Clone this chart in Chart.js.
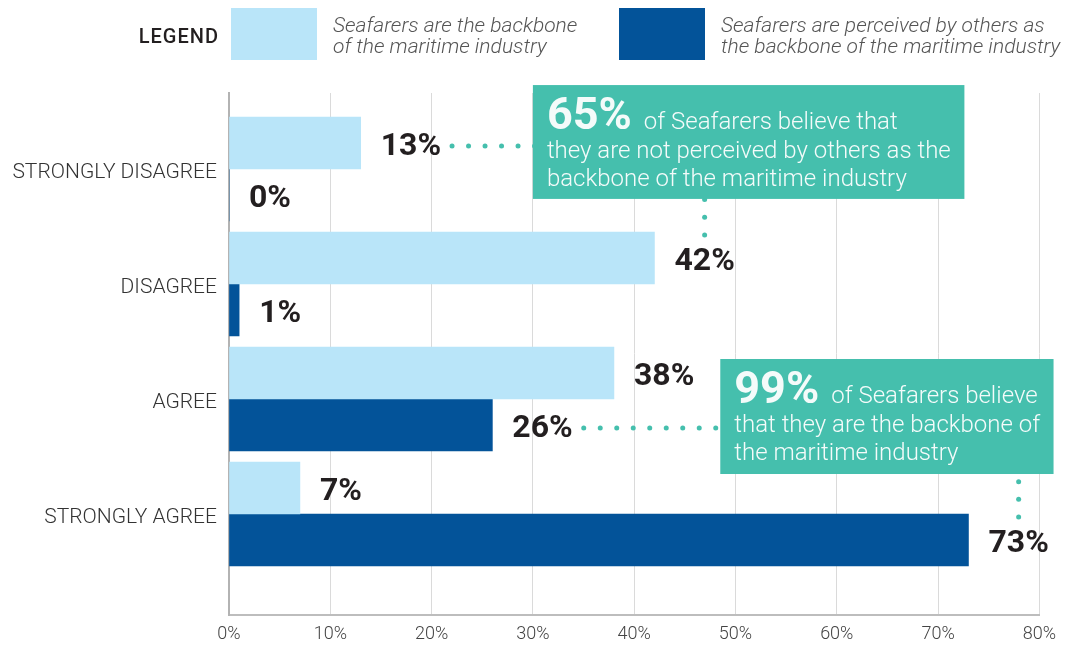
<!DOCTYPE html>
<html>
<head>
<meta charset="utf-8">
<script src="https://cdn.jsdelivr.net/npm/chart.js@4.4.1/dist/chart.umd.min.js"></script>
<style>
  html, body { margin: 0; padding: 0; background: #ffffff; }
  #wrap { width: 1065px; height: 648px; position: relative; }
</style>
</head>
<body>
<div id="wrap"><canvas id="chart"></canvas></div>
<script>
// Survey answers, in percent of respondents
const categories = ['STRONGLY DISAGREE', 'DISAGREE', 'AGREE', 'STRONGLY AGREE'];
const backboneSelf = [13, 42, 38, 7];     // "Seafarers are the backbone of the maritime industry"
const backboneOthers = [0, 1, 26, 73];    // "Seafarers are perceived by others as the backbone..."
const xTickValues = [0, 10, 20, 30, 40, 50, 60, 70, 80];
const seriesNames = [
  ['Seafarers are the backbone', 'of the maritime industry'],
  ['Seafarers are perceived by others as', 'the backbone of the maritime industry']
];
const legendTitle = 'LEGEND';
const calloutTexts = [
  { big: '65%', lines: ['of Seafarers believe that', 'they are not perceived by others as the', 'backbone of the maritime industry'] },
  { big: '99%', lines: ['of Seafarers believe', 'that they are the backbone of', 'the maritime industry'] }
];

const LIGHT = '#b9e5f9';
const DARK = '#035399';
const TEAL = '#45bfad';
const INK = '#231f20';
const FONT = 'Roboto, "DejaVu Sans", sans-serif';
const LABEL_FONT = 'bold 32px ' + FONT;

// Callout boxes placed in axis units (x = percent, y = category index),
// each linked by dotted leaders to two value labels {dataset, index}.
const calloutLayout = [
  { x0: 30, x1: 72.6, y0: -0.73, y1: 0.26, side: { ds: 0, i: 0 }, below: { ds: 0, i: 1 } },
  { x0: 48.5, x1: 81.4, y0: 1.652, y1: 2.652, side: { ds: 1, i: 2 }, below: { ds: 1, i: 3 } }
];

function labelBox(chart, ds, i) {
  const el = chart.getDatasetMeta(ds).data[i];
  const ctx = chart.ctx;
  ctx.save();
  ctx.font = LABEL_FONT;
  const value = chart.data.datasets[ds].data[i].x;
  const text = value + '%';
  const w = ctx.measureText(text).width;
  ctx.restore();
  const x = el.x + 20;
  const base = el.y + 12;
  return { text, x, base, w, top: base - 23, cy: el.y };
}

const annotate = {
  id: 'annotate',
  afterDatasetsDraw(chart) {
    const ctx = chart.ctx;
    const xs = chart.scales.x, ys = chart.scales.y;

    // value labels beside each bar
    chart.data.datasets.forEach((d, ds) => {
      d.data.forEach((p, i) => {
        const lb = labelBox(chart, ds, i);
        ctx.save();
        ctx.font = LABEL_FONT;
        ctx.fillStyle = INK;
        ctx.textBaseline = 'alphabetic';
        ctx.textAlign = 'left';
        ctx.fillText(lb.text, lb.x, lb.base);
        ctx.restore();
      });
    });

    calloutLayout.forEach((c, k) => {
      const left = xs.getPixelForValue(c.x0), right = xs.getPixelForValue(c.x1);
      const top = ys.getPixelForValue(c.y0), bottom = ys.getPixelForValue(c.y1);

      ctx.save();
      ctx.fillStyle = TEAL;
      // horizontal dotted leader from a value label to the box
      const s = labelBox(chart, c.side.ds, c.side.i);
      const hy = s.cy + 3;
      for (let x = s.x + s.w + 11; x <= left + 4; x += 16.5) {
        ctx.beginPath(); ctx.arc(x, hy, 2.5, 0, Math.PI * 2); ctx.fill();
      }
      // vertical dotted leader from the box down to a value label
      const b = labelBox(chart, c.below.ds, c.below.i);
      const vx = b.x + b.w / 2;
      for (let y = b.top - 12; y >= bottom - 4; y -= 17.7) {
        ctx.beginPath(); ctx.arc(vx, y, 2.5, 0, Math.PI * 2); ctx.fill();
      }
      // box
      ctx.fillRect(left, top, right - left, bottom - top);

      // box text
      const t = calloutTexts[k];
      ctx.fillStyle = '#f4fbfa';
      ctx.textBaseline = 'alphabetic';
      ctx.textAlign = 'left';
      ctx.font = 'bold 45px ' + FONT;
      ctx.fillText(t.big, left + 14, top + 44);
      const bw = ctx.measureText(t.big).width;
      ctx.font = '300 24px ' + FONT;
      ctx.fillText(t.lines[0], left + 14 + bw + 12, top + 44);
      ctx.fillText(t.lines[1], left + 14, top + 73);
      ctx.fillText(t.lines[2], left + 14, top + 101);
      ctx.restore();
    });
  },
  afterDraw(chart) {
    // legend row
    const ctx = chart.ctx;
    ctx.save();
    ctx.fillStyle = INK;
    ctx.font = '500 20px ' + FONT;
    ctx.letterSpacing = '1px';
    ctx.textAlign = 'right';
    ctx.textBaseline = 'alphabetic';
    ctx.fillText(legendTitle, 219, 43);
    ctx.letterSpacing = '0px';
    const swatchX = [231, 619];
    chart.data.datasets.forEach((d, ds) => {
      ctx.fillStyle = d.backgroundColor;
      ctx.fillRect(swatchX[ds], 8, 86, 52);
      ctx.fillStyle = '#555555';
      ctx.font = 'italic 300 21px ' + FONT;
      ctx.textAlign = 'left';
      seriesNames[ds].forEach((line, j) => {
        ctx.fillText(line, swatchX[ds] + 102, 32 + j * 21);
      });
    });
    ctx.restore();
  }
};

const toPoints = arr => arr.map((v, i) => ({ x: v, y: i }));

new Chart(document.getElementById('chart'), {
  type: 'bar',
  data: {
    datasets: [
      { label: seriesNames[0].join(' '), data: toPoints(backboneSelf), backgroundColor: LIGHT, barThickness: 52 },
      { label: seriesNames[1].join(' '), data: toPoints(backboneOthers), backgroundColor: DARK, barThickness: 52 }
    ]
  },
  options: {
    indexAxis: 'y',
    responsive: true,
    maintainAspectRatio: false,
    animation: false,
    devicePixelRatio: 1,
    layout: { padding: { top: 93, right: 24, bottom: 0, left: 0 } },
    plugins: { legend: { display: false }, tooltip: { enabled: false } },
    scales: {
      x: {
        type: 'linear',
        min: 0, max: 80,
        afterBuildTicks: s => { s.ticks = xTickValues.map(v => ({ value: v })); },
        afterFit: s => { s.height = 33; },
        grid: { color: '#dadada', lineWidth: 1, drawTicks: false },
        border: { display: true, color: '#bdbdbd', width: 2 },
        ticks: {
          padding: 9,
          color: '#444444',
          font: { family: FONT, size: 18, weight: '300' },
          callback: v => v + '%'
        }
      },
      y: {
        type: 'linear',
        reverse: true,
        offset: false,
        z: 1,
        min: -0.661, max: 3.878,
        afterBuildTicks: s => { s.ticks = categories.map((c, i) => ({ value: i })); },
        afterFit: s => { s.width = 229; },
        grid: { display: false, drawTicks: false, offset: false },
        border: { display: true, color: '#b3b3b3', width: 2 },
        ticks: {
          padding: 12,
          labelOffset: 4,
          color: '#333333',
          font: { family: FONT, size: 21, weight: '300' },
          callback: v => categories[v]
        }
      }
    }
  },
  plugins: [annotate]
});
</script>
</body>
</html>
